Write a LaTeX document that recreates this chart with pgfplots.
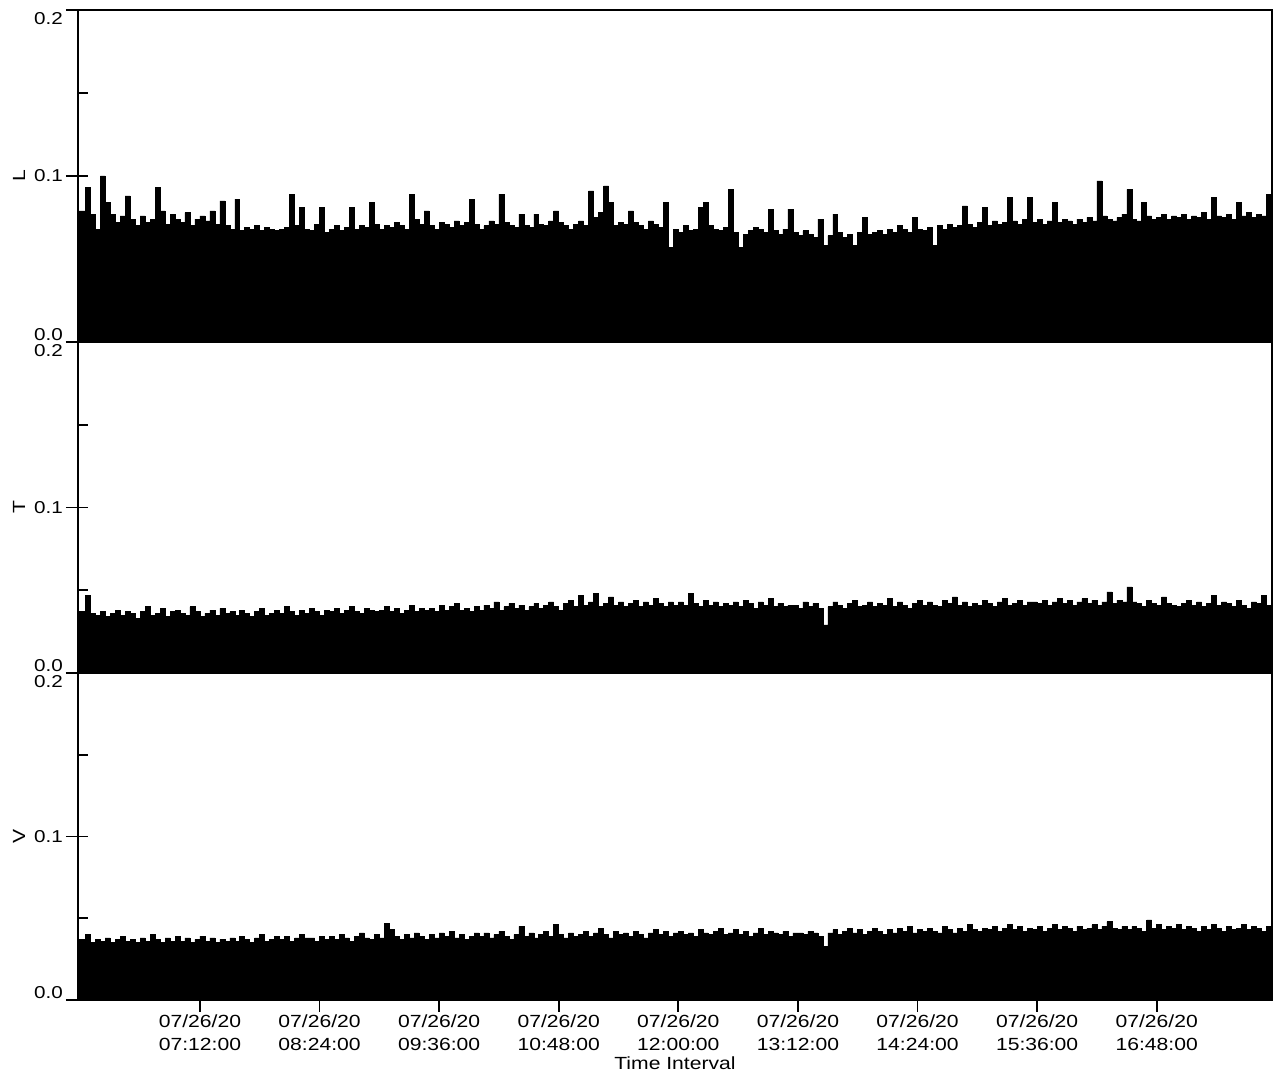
\documentclass[border=0pt]{standalone}
\usepackage{fontspec}
\setmainfont{Liberation Sans}[FakeStretch=1.2]
\usepackage{pgfplots}
\usepackage{pgfplotstable}
\pgfplotsset{compat=1.18}

\pgfplotstableread[row sep=\\]{
t L T V\\
-1.5 .079 .037 .037\\ 3 .093 .047 .040\\ 6 .077 .036 .035\\ 9 .068 .035 .037\\ 12 .100 .037 .036\\ 15 .084 .034 .038\\ 18 .077 .036 .035\\ 21 .072 .038 .037\\ 24 .076 .035 .039\\ 27 .088 .037 .036\\
30 .074 .036 .037\\ 33 .070 .033 .035\\ 36 .076 .037 .038\\ 39 .072 .040 .036\\ 42 .074 .035 .040\\ 45 .093 .036 .037\\ 48 .079 .039 .035\\ 51 .071 .034 .038\\ 54 .077 .037 .036\\ 57 .074 .038 .039\\
60 .072 .036 .036\\ 63 .078 .035 .038\\ 66 .070 .040 .035\\ 69 .074 .037 .037\\ 72 .076 .034 .039\\ 75 .073 .036 .036\\ 78 .079 .038 .038\\ 81 .071 .035 .035\\ 84 .085 .039 .037\\ 87 .070 .036 .036\\
90 .068 .037 .038\\ 93 .086 .035 .036\\ 96 .067 .038 .039\\ 99 .069 .036 .037\\ 102 .068 .034 .035\\ 105 .070 .037 .038\\ 108 .067 .039 .040\\ 111 .069 .035 .036\\ 114 .068 .036 .037\\ 117 .067 .038 .039\\
120 .068 .036 .037\\ 123 .069 .040 .039\\ 126 .089 .037 .036\\ 129 .070 .035 .038\\ 132 .081 .038 .040\\ 135 .068 .036 .038\\ 138 .067 .039 .038\\ 141 .071 .037 .036\\ 144 .081 .035 .039\\ 147 .066 .038 .037\\
150 .068 .037 .039\\ 153 .070 .039 .037\\ 156 .067 .036 .040\\ 159 .069 .038 .038\\ 162 .081 .040 .036\\ 165 .068 .037 .039\\ 168 .070 .036 .041\\ 171 .069 .039 .038\\ 174 .084 .038 .037\\ 177 .071 .037 .040\\
180 .068 .038 .038\\ 183 .070 .040 .047\\ 186 .069 .037 .043\\ 189 .072 .039 .039\\ 192 .070 .036 .037\\ 195 .068 .038 .040\\ 198 .089 .041 .038\\ 201 .074 .037 .041\\ 204 .071 .039 .039\\ 207 .079 .038 .037\\
210 .070 .039 .040\\ 213 .068 .037 .038\\ 216 .072 .041 .041\\ 219 .071 .038 .039\\ 222 .069 .040 .042\\ 225 .073 .042 .038\\ 228 .070 .038 .040\\ 231 .072 .039 .037\\ 234 .086 .037 .039\\ 237 .071 .040 .041\\
240 .068 .038 .039\\ 243 .070 .041 .041\\ 246 .073 .039 .038\\ 249 .071 .043 .040\\ 252 .089 .038 .042\\ 255 .072 .040 .039\\ 258 .070 .042 .037\\ 261 .069 .039 .040\\ 264 .077 .041 .045\\ 267 .070 .038 .039\\
270 .069 .040 .041\\ 273 .077 .042 .038\\ 276 .071 .039 .040\\ 279 .070 .041 .042\\ 282 .073 .043 .039\\ 285 .079 .040 .046\\ 288 .072 .038 .040\\ 291 .070 .042 .038\\ 294 .068 .044 .041\\ 297 .071 .040 .039\\
300 .073 .047 .040\\ 303 .070 .041 .042\\ 306 .091 .043 .039\\ 309 .075 .048 .041\\ 312 .078 .040 .044\\ 315 .094 .042 .040\\ 318 .084 .046 .038\\ 321 .070 .041 .042\\ 324 .072 .043 .040\\ 327 .071 .040 .041\\
330 .079 .042 .039\\ 333 .072 .044 .042\\ 336 .070 .040 .040\\ 339 .068 .043 .038\\ 342 .073 .041 .041\\ 345 .071 .045 .043\\ 348 .069 .042 .040\\ 351 .084 .040 .042\\ 354 .057 .043 .039\\ 357 .068 .041 .041\\
360 .066 .043 .042\\ 363 .070 .041 .040\\ 366 .067 .048 .041\\ 369 .068 .042 .039\\ 372 .081 .040 .043\\ 375 .084 .044 .041\\ 378 .070 .041 .040\\ 381 .068 .043 .042\\ 384 .067 .040 .044\\ 387 .069 .042 .040\\
390 .092 .041 .041\\ 393 .066 .043 .043\\ 396 .057 .040 .040\\ 399 .065 .044 .042\\ 402 .067 .042 .039\\ 405 .069 .039 .041\\ 408 .068 .043 .044\\ 411 .066 .041 .040\\ 414 .080 .045 .042\\ 417 .067 .040 .041\\
420 .065 .042 .040\\ 423 .068 .040 .042\\ 426 .080 .041 .039\\ 429 .066 .041 .041\\ 432 .064 .039 .041\\ 435 .067 .043 .040\\ 438 .065 .040 .042\\ 441 .063 .042 .041\\ 444 .074 .039 .039\\ 447 .058 .029 .033\\
450 .064 .040 .041\\ 453 .077 .043 .043\\ 456 .066 .041 .040\\ 459 .063 .039 .042\\ 462 .065 .042 .044\\ 465 .058 .044 .041\\ 468 .066 .040 .043\\ 471 .075 .041 .040\\ 474 .065 .043 .042\\ 477 .066 .040 .044\\
480 .067 .042 .042\\ 483 .065 .041 .040\\ 486 .068 .045 .043\\ 489 .066 .040 .041\\ 492 .070 .043 .044\\ 495 .068 .041 .042\\ 498 .066 .039 .045\\ 501 .075 .042 .041\\ 504 .068 .044 .043\\ 507 .067 .041 .042\\
510 .069 .043 .044\\ 513 .058 .041 .042\\ 516 .070 .040 .041\\ 519 .068 .044 .045\\ 522 .071 .042 .043\\ 525 .069 .046 .041\\ 528 .070 .041 .044\\ 531 .082 .043 .042\\ 534 .071 .040 .046\\ 537 .069 .042 .043\\
540 .072 .041 .042\\ 543 .081 .044 .044\\ 546 .070 .042 .043\\ 549 .073 .040 .045\\ 552 .071 .043 .042\\ 555 .072 .045 .044\\ 558 .087 .041 .046\\ 561 .073 .042 .043\\ 564 .071 .044 .045\\ 567 .074 .041 .042\\
570 .087 .043 .044\\ 573 .072 .043 .043\\ 576 .074 .042 .045\\ 579 .071 .044 .042\\ 582 .073 .041 .044\\ 585 .084 .043 .046\\ 588 .072 .045 .043\\ 591 .074 .042 .045\\ 594 .073 .044 .044\\ 597 .071 .041 .042\\
600 .074 .043 .045\\ 603 .072 .045 .043\\ 606 .075 .042 .044\\ 609 .073 .044 .046\\ 612 .097 .041 .043\\ 615 .076 .043 .045\\ 618 .074 .049 .048\\ 621 .073 .042 .044\\ 624 .075 .044 .043\\ 627 .077 .043 .045\\
630 .092 .052 .043\\ 633 .074 .043 .045\\ 636 .073 .042 .044\\ 639 .084 .040 .042\\ 642 .076 .044 .049\\ 645 .074 .042 .044\\ 648 .075 .041 .046\\ 651 .077 .046 .043\\ 654 .074 .042 .045\\ 657 .076 .041 .044\\
660 .075 .040 .046\\ 663 .077 .042 .043\\ 666 .074 .044 .045\\ 669 .076 .041 .044\\ 672 .075 .043 .042\\ 675 .078 .040 .045\\ 678 .074 .042 .043\\ 681 .087 .047 .046\\ 684 .076 .041 .044\\ 687 .075 .043 .042\\
690 .077 .042 .045\\ 693 .074 .040 .043\\ 696 .084 .044 .044\\ 699 .076 .041 .046\\ 702 .078 .039 .043\\ 705 .075 .043 .045\\ 708 .077 .042 .044\\ 711 .076 .047 .042\\ 714 .089 .041 .045\\ 717 .077 .043 .043\\
720 .077 .043 .043\\
}\data

\pgfplotsset{
  panel/.style={
    scale only axis, width=597pt,
    xmin=-1.4, xmax=717.4, ymin=0, ymax=0.2,
    ytick={0,0.1,0.2}, minor ytick={0.05,0.15},
    yticklabels={\raisebox{0.5pt}[0pt][0pt]{0.0},0.1,\raisebox{-7.5pt}[0pt][0pt]{0.2}},
    ytick pos=left, xtick pos=bottom,
    tick align=outside, major tick length=11pt, minor tick length=5pt,
    every major y tick/.append style={xshift=5pt},
    every minor y tick/.append style={xshift=5pt},
    every major x tick/.append style={dash pattern=on 0pt off 5pt on 6pt off 30pt},
    axis line style={line width=0.9pt},
    every tick/.append style={line width=0.9pt, black},
    yticklabel style={font=\fontsize{8.6}{10}\selectfont, xshift=7pt},
    xticklabel style={font=\fontsize{8.8}{11.5}\selectfont, align=center, yshift=7pt},
    every axis y label/.style={font=\fontsize{8.8}{10}\selectfont, at={(axis description cs:0,0.5)}, rotate=90, anchor=center, yshift=29.5pt},
    every axis x label/.style={font=\fontsize{8.8}{10}\selectfont, at={(axis description cs:0.5,0)}, anchor=base, yshift=-35pt},
    axis on top,
  },
  bars/.style={const plot, fill=black, draw=black, line width=0.3pt},
}

\begin{document}
\begin{tikzpicture}
\begin{axis}[panel, at={(39pt,366pt)}, anchor=south west, height=166pt, xtick=\empty, ylabel={L}]
\addplot[bars] table[x=t, y=L] {\data} \closedcycle;
\end{axis}
\begin{axis}[panel, at={(39pt,200.5pt)}, anchor=south west, height=165.5pt, xtick=\empty, ylabel={T}]
\addplot[bars] table[x=t, y=T] {\data} \closedcycle;
\end{axis}
\begin{axis}[panel, at={(39pt,37pt)}, anchor=south west, height=163.5pt, ylabel={V},
  xtick={72,144,216,288,360,432,504,576,648},
  xticklabels={07/26/20\\07:12:00, 07/26/20\\08:24:00, 07/26/20\\09:36:00, 07/26/20\\10:48:00, 07/26/20\\12:00:00, 07/26/20\\13:12:00, 07/26/20\\14:24:00, 07/26/20\\15:36:00, 07/26/20\\16:48:00},
  xlabel={Time Interval}]
\addplot[bars] table[x=t, y=V] {\data} \closedcycle;
\end{axis}
\pgfresetboundingbox
\path[use as bounding box] (0,0) rectangle (637pt,537pt);
\end{tikzpicture}
\end{document}
